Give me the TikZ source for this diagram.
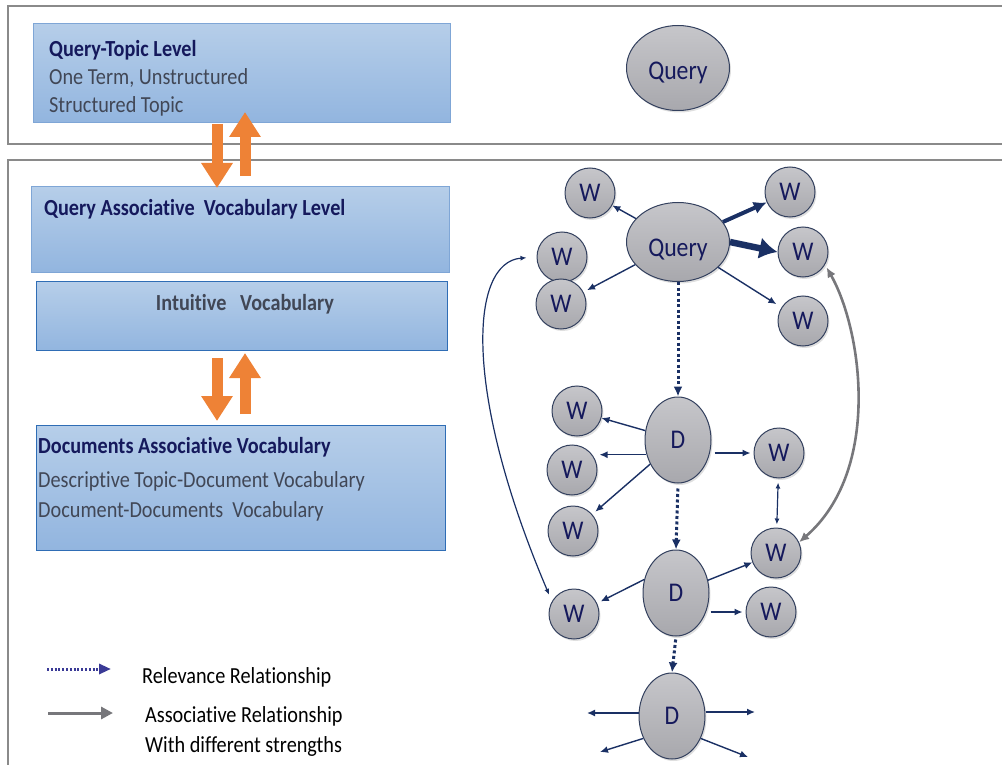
\documentclass[tikz,border=0pt]{standalone}
\usepackage{fontspec}
\setmainfont[FakeStretch=0.88,RawFeature={-liga}]{Carlito}
\usetikzlibrary{arrows.meta,shapes.geometric,shadows,calc}
\definecolor{frame}{HTML}{8A8A8A}
\definecolor{boxtop}{HTML}{B6CEE9}
\definecolor{boxbot}{HTML}{92B5DF}
\definecolor{boxline}{HTML}{7FA6D6}
\definecolor{boxdark}{HTML}{2F6DB5}
\definecolor{headc}{HTML}{15195C}
\definecolor{subc}{HTML}{414756}
\definecolor{nodetop}{HTML}{C6C6CA}
\definecolor{nodebot}{HTML}{A8A8AD}
\definecolor{nodeline}{HTML}{33405E}
\definecolor{navy}{HTML}{1A3064}
\definecolor{grayarr}{HTML}{77777B}
\definecolor{orangearr}{HTML}{EE8236}
\definecolor{legnavy}{HTML}{3A3A96}
\tikzset{
  lvlbox/.style={draw=boxline, line width=1pt, top color=boxtop, bottom color=boxbot, inner sep=0pt, anchor=north west},
  heading/.style={anchor=base west, inner sep=0pt, text=headc, font=\fontsize{23}{26}\selectfont\bfseries},
  subtext/.style={anchor=base west, inner sep=0pt, text=subc, font=\fontsize{23}{26}\selectfont},
  ell/.style={ellipse, draw=nodeline, line width=1pt, top color=nodetop, bottom color=nodebot, inner sep=0pt, text=headc, font=\fontsize{27}{30}\selectfont, drop shadow={opacity=0.25, shadow xshift=1.5pt, shadow yshift=-2pt}},
  wnode/.style={circle, draw=nodeline, line width=1pt, top color=nodetop, bottom color=nodebot, inner sep=0pt, minimum size=50pt, text=headc, font=\fontsize{27}{30}\selectfont, drop shadow={opacity=0.25, shadow xshift=1.5pt, shadow yshift=-2pt}},
  arr/.style={draw=navy, line width=1.4pt, -{Latex[length=8pt,width=7pt]}},
  darr/.style={draw=navy, line width=1.2pt, {Latex[length=6pt,width=5pt]}-{Latex[length=6pt,width=5pt]}},
  dotarr/.style={draw=navy, line width=3pt, dash pattern=on 3pt off 2.5pt, -{Latex[length=10pt,width=9pt]}},
  oarrow/.style={draw=orangearr, line width=11pt, -{Triangle[length=25pt,width=30pt]}},
  legtext/.style={anchor=base west, inner sep=0pt, text=black, font=\fontsize{23}{26}\selectfont},
}
\begin{document}
\begin{tikzpicture}[x=1pt,y=-1pt]
\useasboundingbox (0,0) rectangle (1002,765);
% frames
\draw[frame, line width=1.5pt] (1010,6) -- (8,6) -- (8,144) -- (1010,144);
\draw[frame, line width=1.5pt] (1010,160) -- (8,160) -- (8,775);

% level boxes
\node[lvlbox, minimum width=417pt, minimum height=99pt] (qt) at (33,23) {};
\node[heading] (qth) at (49,57) {Query-Topic Level};
\node[subtext] (qt1) at (49,85) {One Term, Unstructured};
\node[subtext] (qt2) at (49,113) {Structured Topic};

\node[lvlbox, minimum width=418pt, minimum height=86pt] (qa) at (31,186) {};
\node[heading] (qah) at (44,215) {Query Associative\ \ Vocabulary Level};

\node[lvlbox, draw=boxdark, minimum width=411pt, minimum height=69pt] (iv) at (36,281) {};
\node[anchor=base, inner sep=0pt, text=subc, font=\fontsize{23}{26}\selectfont\bfseries] (ivt) at (245,310) {Intuitive\ \ \ Vocabulary};

\node[lvlbox, draw=boxdark, minimum width=409pt, minimum height=125pt] (da) at (36,425) {};
\node[heading] (dah) at (38,453) {Documents Associative Vocabulary};
\node[subtext] (da1) at (38,487) {Descriptive Topic-Document Vocabulary};
\node[subtext] (da2) at (38,517) {Document-Documents\ \ Vocabulary};

% orange arrows
\coordinate (o1a) at (217,124);
\coordinate (o1b) at (217,188);
\coordinate (o2a) at (245,176);
\coordinate (o2b) at (245,112);
\coordinate (o3a) at (217,358);
\coordinate (o3b) at (217,421);
\coordinate (o4a) at (245,414);
\coordinate (o4b) at (245,353);
\draw[oarrow] (o1a) -- (o1b);
\draw[oarrow] (o2a) -- (o2b);
\draw[oarrow] (o3a) -- (o3b);
\draw[oarrow] (o4a) -- (o4b);

% top query
\node[ell, minimum width=103pt, minimum height=85pt] (q1) at (678,68) {\raisebox{-3pt}[\height][0pt]{Query}};

% graph
\node[ell, minimum width=103pt, minimum height=79pt] (q2) at (678,242) {\raisebox{-6pt}[\height][0pt]{Query}};
\node[wnode] (w1) at (590,193) {W};
\node[wnode] (w2) at (562,257) {W};
\node[wnode] (w3) at (561,304) {W};
\node[wnode] (w4) at (790,192) {W};
\node[wnode] (w5) at (803,252) {W};
\node[wnode] (w6) at (803,321) {W};

\node[ell, minimum width=66pt, minimum height=86pt] (d1) at (678,440) {D};
\node[wnode] (w7) at (577,411) {W};
\node[wnode] (w8) at (572,470) {W};
\node[wnode] (w9) at (573,531) {W};
\node[wnode] (w10) at (779,453) {W};
\node[wnode] (w11) at (776,553) {W};

\node[ell, minimum width=66pt, minimum height=86pt] (d2) at (676,593) {D};
\node[wnode] (w12) at (574,614) {W};
\node[wnode] (w13) at (771,612) {W};

\node[ell, minimum width=66pt, minimum height=86pt] (d3) at (672,716) {D};

% query edges
\draw[arr] (q2) -- (w1);
\draw[arr, shorten >=4pt] (q2) -- (w3);
\draw[draw=navy, line width=4pt, -{Latex[length=13pt,width=13pt]}] (q2) -- (w4);
\draw[draw=navy, line width=6.5pt, -{Latex[length=18pt,width=22pt]}] (q2.east) -- (w5.west);
\draw[arr, shorten >=6pt] (q2) -- (w6);
\draw[dotarr] (q2.south) -- (d1.north);

% D1 edges
\draw[arr] (d1) -- (w7);
\draw[arr, shorten >=2pt] (d1.205) -- (d1.205 -| w8.east);
\draw[arr, shorten >=4pt] (d1) -- (w9);
\draw[arr, shorten <=3pt, shorten >=3pt] (d1.east |- w10.west) -- (w10.west);
\draw[darr, shorten <=4pt, shorten >=3pt] (w10) -- (w11);
\draw[dotarr, shorten <=5pt] (d1.south) -- (d2.north);

% D2 edges
\draw[arr] (d2) -- (w11);
\draw[arr, shorten >=4pt] (d2.157) -- (w12.25);
\draw[arr, shorten <=1pt, shorten >=3pt] (d2.east |- w13.west) -- (w13.west);
\draw[dotarr, shorten <=3pt] (d2.south) -- (d3.north);

% D3 free arrows
\coordinate (e1) at (587,713);
\coordinate (e2) at (755,712);
\coordinate (e3) at (600,752);
\coordinate (e4) at (748,757);
\draw[arr] (d3.west |- e1) -- (e1);
\draw[arr] (d3.east |- e2) -- (e2);
\draw[arr] (d3.218) -- (e3);
\draw[arr] (d3.322) -- (e4);

% long curves
\draw[darr, shorten <=10pt, shorten >=7pt] (w2.west) .. controls (470,262) and (462,390) .. (w12.150);
\draw[draw=grayarr, line width=2.6pt, {Latex[length=10pt,width=9pt]}-{Latex[length=10pt,width=9pt]}, shorten <=3pt] (w5.330) .. controls (862,330) and (882,470) .. (w11.25);

% legend
\coordinate (l1a) at (47,669);
\coordinate (l1b) at (111,669);
\coordinate (l2a) at (48,713);
\coordinate (l2b) at (113,713);
\draw[draw=legnavy, line width=3pt, dash pattern=on 2pt off 1.8pt, -{Triangle[length=12pt,width=10pt]}] (l1a) -- (l1b);
\draw[draw=grayarr, line width=3pt, -{Triangle[length=12pt,width=12pt]}] (l2a) -- (l2b);
\node[legtext] (lt1) at (142,683) {Relevance Relationship};
\node[legtext] (lt2) at (145,722) {Associative Relationship};
\node[legtext] (lt3) at (145,752) {With different strengths};
\end{tikzpicture}
\end{document}
